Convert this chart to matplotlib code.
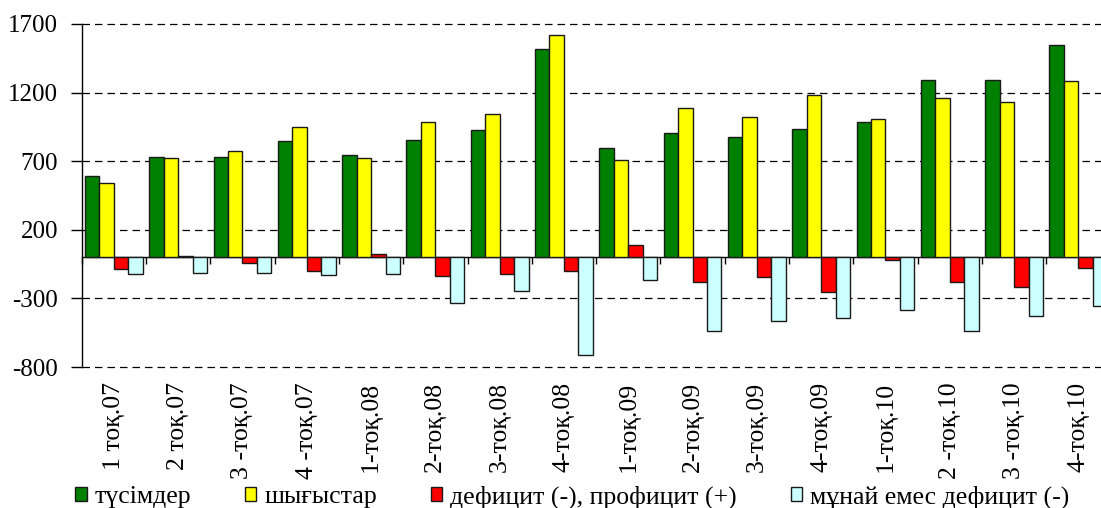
import matplotlib
matplotlib.use("Agg")
import matplotlib.pyplot as plt
import numpy as np

plt.rcParams['font.family'] = ['Liberation Serif', 'DejaVu Serif']

categories = ["1 тоқ.07", "2 тоқ.07", "3 -тоқ.07", "4 -тоқ.07",
              "1-тоқ.08", "2-тоқ.08", "3-тоқ.08", "4-тоқ.08",
              "1-тоқ.09", "2-тоқ.09", "3-тоқ.09", "4-тоқ.09",
              "1-тоқ.10", "2 -тоқ.10", "3 -тоқ.10", "4-тоқ.10"]
revenues = [592, 728, 730, 849, 745, 854, 925, 1517, 798, 905, 878, 932, 983, 1291, 1294, 1544]
expenses = [543, 721, 772, 947, 721, 988, 1044, 1617, 708, 1087, 1020, 1184, 1005, 1158, 1129, 1282]
balance = [-88, 9, -42, -98, 21, -137, -122, -103, 87, -183, -147, -256, -23, -183, -219, -79]
nonoil = [-125, -113, -118, -130, -122, -336, -244, -715, -166, -536, -463, -446, -387, -540, -429, -356]

series = [
    ("түсімдер", revenues, "#008000"),
    ("шығыстар", expenses, "#FFFF00"),
    ("дефицит (-), профицит (+)", balance, "#FF0000"),
    ("мұнай емес дефицит (-)", nonoil, "#CCFFFF"),
]
yticks = [-800, -300, 200, 700, 1200, 1700]

W, H = 1101, 508
fig = plt.figure(figsize=(W / 100, H / 100), dpi=100)
left = 81.7 / W
width = 16 * 64.3 / W
bottom = 1 - 367 / H
top = 1 - 24 / H
ax = fig.add_axes([left, bottom, width, top - bottom])

x = np.arange(len(categories))
bw = 0.225
offsets = [-1.5 * bw, -0.5 * bw, 0.5 * bw, 1.5 * bw]
handles = []
for (name, vals, col), off in zip(series, offsets):
    h = ax.bar(x + off, vals, width=bw, color=col, edgecolor="#1a1a1a",
               linewidth=1.0, label=name, zorder=3)
    handles.append(h)

ax.set_xlim(-0.5, len(categories) - 0.5)
ax.set_ylim(-800, 1700)
ax.set_yticks(yticks)
ax.set_yticklabels([str(v) for v in yticks], fontsize=18)
ax.tick_params(axis='y', length=8, width=1, direction='out', pad=9, color='black')
ax.yaxis.grid(True, linestyle=(0, (6, 4)), color='black', linewidth=0.9, zorder=1)
for gl in ax.get_ygridlines():
    gl.set_clip_on(False)

for s in ['top', 'right', 'bottom']:
    ax.spines[s].set_visible(False)
ax.spines['left'].set_color('black')
ax.spines['left'].set_linewidth(1)

ax.set_xticks(x)
ax.set_xticklabels(categories, rotation=90, fontsize=18.5)
ax.tick_params(axis='x', length=0, pad=11)

sec = ax.secondary_xaxis(800 / 2500)
sec.set_xticks(np.arange(-0.5, len(categories), 1.0))
sec.set_xticklabels([])
sec.tick_params(axis='x', length=5, width=1, direction='out', color='black')
sec.spines['bottom'].set_color('black')
sec.spines['bottom'].set_linewidth(1)

leg = fig.legend(handles=handles, loc='center left', bbox_to_anchor=(75 / W, 1 - 497 / H),
                 ncol=4, frameon=False, fontsize=18.5, handlelength=0.45,
                 handleheight=0.45, handletextpad=0.3, columnspacing=2.1,
                 borderaxespad=0, borderpad=0)

fig.savefig("out.png", dpi=100)
